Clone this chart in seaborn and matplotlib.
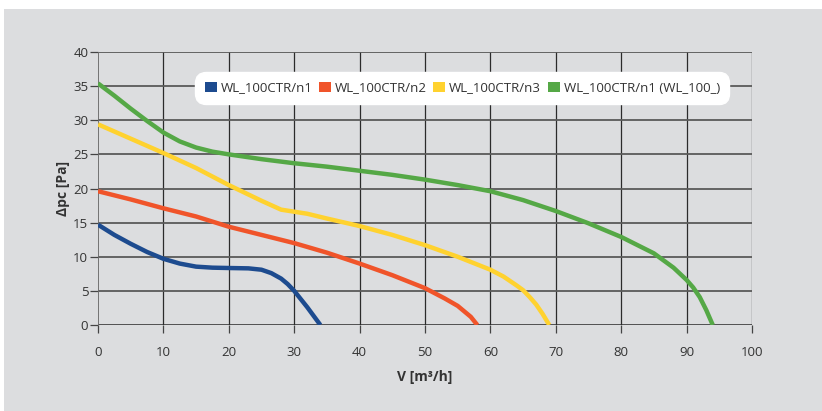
import matplotlib
matplotlib.use("Agg")
import matplotlib.pyplot as plt
import seaborn as sns
import pandas as pd
from matplotlib.patches import Rectangle, Patch

series_names = ["WL_100CTR/n1", "WL_100CTR/n2", "WL_100CTR/n3", "WL_100CTR/n1 (WL_100_)"]
legend_labels = ["WL_100CTR/n1", "WL_100CTR/n2", "WL_100CTR/n3", "WL_100CTR/n1 (WL_100_)"]

blue_x = [0, 2.5, 5, 7.5, 10, 12.5, 15, 17.5, 20, 23, 25, 26.5, 28, 29, 30, 31, 32, 33, 34]
blue_y = [14.7, 13.2, 11.9, 10.7, 9.7, 9.0, 8.55, 8.4, 8.35, 8.3, 8.1, 7.6, 6.8, 6.0, 5.0, 3.8, 2.6, 1.3, 0.0]

red_x = [0, 5, 10, 15, 20, 25, 30, 35, 40, 45, 50, 53, 55, 57, 58]
red_y = [19.6, 18.4, 17.1, 15.9, 14.4, 13.2, 12.0, 10.6, 9.0, 7.3, 5.4, 3.9, 2.8, 1.2, 0.0]

yellow_x = [0, 5, 10, 15, 20, 25, 28, 30, 32, 35, 40, 45, 50, 55, 60, 62, 64, 65, 66, 67, 68, 69]
yellow_y = [29.4, 27.3, 25.2, 23.0, 20.5, 18.2, 16.9, 16.6, 16.3, 15.6, 14.5, 13.2, 11.7, 10.0, 8.1, 7.1, 5.8, 5.1, 4.1, 3.0, 1.6, 0.0]

green_x = [0, 2.5, 5, 7.5, 10, 12.5, 15, 17.5, 20, 25, 30, 35, 40, 45, 50, 55, 60, 65, 70, 75, 80, 85, 88, 90, 91, 92, 93, 94]
green_y = [35.4, 33.6, 31.7, 29.9, 28.2, 26.9, 26.0, 25.4, 25.0, 24.3, 23.7, 23.2, 22.6, 22.0, 21.3, 20.5, 19.6, 18.3, 16.7, 14.9, 12.9, 10.5, 8.4, 6.6, 5.5, 4.1, 2.2, 0.0]

colors = ["#1d4b8f", "#f0542a", "#ffd22f", "#55a846"]

frames = []
for name, xs, ys in zip(series_names, [blue_x, red_x, yellow_x, green_x], [blue_y, red_y, yellow_y, green_y]):
    frames.append(pd.DataFrame({"V": xs, "dp": ys, "series": name}))
df = pd.concat(frames, ignore_index=True)

sns.set_style("white")
plt.rcParams["font.family"] = ["Open Sans", "DejaVu Sans"]

fig = plt.figure(figsize=(8.22, 4.11), dpi=100)
fig.patch.set_facecolor("white")
bg = Rectangle((4 / 822, 0), 1 - 4 / 822, 1 - 9 / 411, transform=fig.transFigure,
               facecolor="#dcdddf", edgecolor="none", zorder=-10)
fig.add_artist(bg)

ax = fig.add_axes([98 / 822, 1 - 325 / 411, 654 / 822, 273 / 411])
ax.set_facecolor("#dcdddf")

for xv in range(10, 101, 10):
    ax.axvline(xv, color="#2b2b2b", lw=0.9, zorder=1)
for yv in range(5, 41, 5):
    ax.axhline(yv, color="#5a5a5a", lw=1.3, zorder=1)
ax.axhline(0, color="#2b2b2b", lw=1.1, zorder=1)
ax.axvline(0, color="#6a6a6a", lw=1.3, zorder=1)

sns.lineplot(data=df, x="V", y="dp", hue="series", palette=colors, hue_order=series_names,
             lw=3.2, ax=ax, legend=False, sort=False, zorder=3,
             solid_joinstyle="round", solid_capstyle="butt")

ax.set_xlim(0, 100)
ax.set_ylim(0, 40)
ax.set_xticks(range(0, 101, 10))
ax.set_yticks(range(0, 41, 5))
for s in ax.spines.values():
    s.set_visible(False)
ax.tick_params(axis="both", which="major", length=6, width=0.9, color="#444444",
               labelsize=9.5, labelcolor="#333333", direction="out", pad=4)
ax.tick_params(axis="x", bottom=True, pad=9)
ax.tick_params(axis="y", left=True, pad=1)
ax.set_xlabel("V [m\u00b3/h]", fontsize=10, fontweight="bold", color="#333333", labelpad=8,
              fontstretch="condensed")
ax.set_ylabel("\u0394pc [Pa]", fontsize=10, fontweight="bold", color="#333333", labelpad=2)

handles = [Patch(facecolor=c, edgecolor="none") for c in colors]
leg = ax.legend(handles, legend_labels, ncol=4, loc="center", bbox_to_anchor=(0.557, 0.868),
                frameon=True, fancybox=True, framealpha=1, edgecolor="white", facecolor="white",
                fontsize=9.5, handlelength=0.9, handleheight=0.9, handletextpad=0.3,
                columnspacing=0.5, borderpad=0.4)
leg.get_frame().set_boxstyle("round", pad=0.3, rounding_size=0.8)
leg.set_zorder(5)
for t in leg.get_texts():
    t.set_color("#333333")

fig.savefig("out.png", dpi=100, facecolor=fig.get_facecolor())
